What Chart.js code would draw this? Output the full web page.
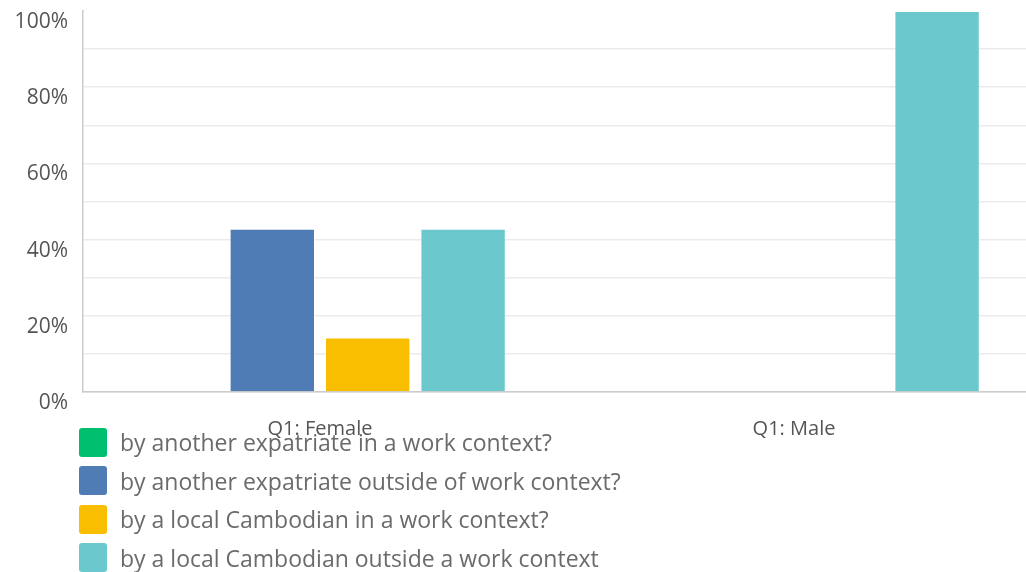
<!DOCTYPE html>
<html>
<head>
<meta charset="utf-8">
<script src="https://cdn.jsdelivr.net/npm/chart.js@4.4.1/dist/chart.umd.min.js"></script>
<style>
  html, body { margin: 0; padding: 0; background: #fff; overflow: hidden; width: 1026px; height: 572px; }
  #wrap { position: absolute; left: 0; top: 0; width: 1031px; height: 450px; }
  #legend { position: absolute; left: 79px; top: 423px; font-family: "Open Sans", sans-serif; font-size: 23px; color: #6b6b6b; }
  .item { display: flex; align-items: center; height: 38.5px; }
  .sw { width: 28px; height: 29px; border-radius: 3px; margin-right: 13px; flex: none; }
</style>
</head>
<body>
<div id="wrap"><canvas id="c"></canvas></div>
<div id="legend"></div>
<script>
const categories = ["Q1: Female", "Q1: Male"];
const seriesNames = [
  "by another expatriate in a work context?",
  "by another expatriate outside of work context?",
  "by a local Cambodian in a work context?",
  "by a local Cambodian outside a work context"
];
const seriesColors = ["#00bf6f", "#507cb6", "#f9be00", "#6bc8cd"];
const expatWork = [0, 0];
const expatOutside = [42.86, 0];
const localWork = [14.29, 0];
const localOutside = [42.86, 100];
const yTicks = [0, 20, 40, 60, 80, 100];

const values = [expatWork, expatOutside, localWork, localOutside];

const datasets = values.map((v, i) => ({
  label: seriesNames[i],
  data: v,
  backgroundColor: seriesColors[i],
  borderColor: "rgba(255,255,255,0.35)",
  borderWidth: 1,
  categoryPercentage: 0.805,
  barPercentage: 0.895
}));

const leg = document.getElementById("legend");
seriesNames.forEach((n, i) => {
  const d = document.createElement("div");
  d.className = "item";
  d.innerHTML = '<span class="sw" style="background:' + seriesColors[i] + '"></span><span>' + n + '</span>';
  leg.appendChild(d);
});

new Chart(document.getElementById("c"), {
  type: "bar",
  data: { labels: categories, datasets },
  options: {
    responsive: true,
    maintainAspectRatio: false,
    animation: false,
    layout: { padding: { top: 11, right: 0, left: 0, bottom: 0 } },
    plugins: { legend: { display: false }, tooltip: { enabled: false } },
    scales: {
      x: {
        grid: { display: false, drawTicks: false },
        border: { color: "#cccccc", width: 1.5 },
        ticks: { color: "#555555", font: { family: "Open Sans", size: 20 }, padding: 25, maxRotation: 0 },
        afterFit: s => { s.height = 58; s.paddingLeft = 0; s.paddingRight = 0; }
      },
      y: {
        min: 0, max: 100,
        grid: {
          drawTicks: false,
          color: ctx => (ctx.tick && ctx.tick.value === 100) ? "rgba(0,0,0,0)" : "#ebebeb",
          lineWidth: 1.5
        },
        border: { color: "#cccccc", width: 1.5 },
        ticks: {
          stepSize: 10,
          padding: 15,
          labelOffset: 11,
          color: "#555555",
          font: { family: "Open Sans", size: 21 },
          callback: v => yTicks.includes(v) ? v + "%" : ""
        },
        afterFit: s => { s.width = 83; s.paddingTop = 0; s.paddingBottom = 0; }
      }
    }
  }
});
</script>
</body>
</html>
